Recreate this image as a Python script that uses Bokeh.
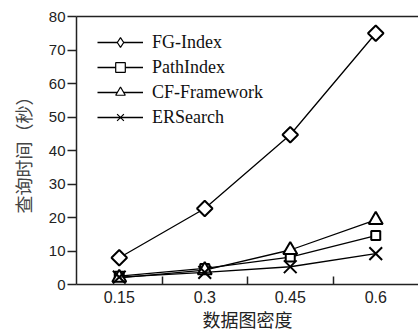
from bokeh.plotting import figure
from bokeh.models import FixedTicker, LinearAxis, Range1d, Legend, LegendItem
from bokeh.embed import file_html
from bokeh.resources import INLINE

# Graph density categories (x axis) and query time in seconds per method
densities = ["0.15", "0.3", "0.45", "0.6"]
fg_index = [8.0, 22.7, 44.7, 75.0]
path_index = [2.5, 4.8, 8.2, 14.6]
cf_framework = [2.0, 4.3, 10.3, 19.3]
er_search = [2.2, 3.6, 5.3, 9.2]

y_ticks = [0, 10, 20, 30, 40, 50, 60, 70, 80]

xs = list(range(len(densities)))

p = figure(width=418, height=334, output_backend="svg", toolbar_location=None,
           x_range=Range1d(-0.5, len(densities) - 0.5), y_range=Range1d(0, 80),
           min_border_left=76, min_border_right=0, min_border_top=16, min_border_bottom=48,
           background_fill_color="white", border_fill_color="white")
p.outline_line_color = None
p.grid.visible = False

# bottom axis: labels at category centres, small inward ticks between categories
xa = p.xaxis[0]
xa.ticker = FixedTicker(ticks=xs, minor_ticks=[i + 0.5 for i in xs[:-1]])
xa.major_label_overrides = {i: d for i, d in enumerate(densities)}
xa.major_tick_line_color = None
xa.major_tick_in = 0
xa.major_tick_out = 0
xa.minor_tick_in = 8
xa.minor_tick_out = 0
xa.minor_tick_line_color = "#222222"
xa.minor_tick_line_width = 1.5
xa.axis_line_width = 1.5
xa.axis_line_color = "#222222"
xa.major_label_text_font = "Liberation Sans"
xa.major_label_text_font_size = "16px"
xa.major_label_text_color = "#222222"
xa.major_label_standoff = 6
xa.axis_label = "数据图密度"
xa.axis_label_text_font = "Noto Sans CJK SC"
xa.axis_label_text_font_size = "18px"
xa.axis_label_text_font_style = "normal"
xa.axis_label_text_color = "#222222"
xa.axis_label_standoff = 0

ya = p.yaxis[0]
ya.ticker = FixedTicker(ticks=y_ticks)
ya.minor_tick_line_color = None
ya.major_tick_in = 0
ya.major_tick_out = 9
ya.major_tick_line_width = 1.5
ya.major_tick_line_color = "#222222"
ya.axis_line_width = 1.5
ya.axis_line_color = "#222222"
ya.major_label_text_font = "Liberation Sans"
ya.major_label_text_font_size = "15px"
ya.major_label_text_color = "#222222"
ya.major_label_standoff = 2
ya.axis_label = "查询时间（秒）"
ya.axis_label_text_font = "Noto Sans CJK SC"
ya.axis_label_text_font_size = "18px"
ya.axis_label_text_font_style = "normal"
ya.axis_label_text_color = "#444444"
ya.axis_label_standoff = 10

# plain top border line
top = LinearAxis(ticker=FixedTicker(ticks=[]), axis_line_width=1.5, axis_line_color="#222222",
                 major_tick_line_color=None, minor_tick_line_color=None,
                 major_label_text_font_size="0px")
p.add_layout(top, "above")

series = [
    ("FG-Index", fg_index, "square", 11, 45, "diamond", 12),
    ("PathIndex", path_index, "square", 9, 0, "square", 8),
    ("CF-Framework", cf_framework, "triangle", 14, 0, "triangle", 11),
    ("ERSearch", er_search, "x", 18, 0, "x", 10),
]

nan = float("nan")
items = []
for name, vals, marker, size, ang, key_marker, key_size in series:
    ln = p.line(xs, vals, line_color="black", line_width=1.3)
    p.scatter(xs, vals, marker=marker, size=size, angle=ang, angle_units="deg",
              fill_color="white", line_color="black", line_width=2)
    # thin outline marker used only for the legend key (no visible point)
    key = p.scatter(x=[nan], y=[nan], marker=key_marker, size=key_size,
                    fill_color="white", line_color="black", line_width=1.2)
    items.append(LegendItem(label=name, renderers=[ln, key]))

legend = Legend(items=items, location=(21, 155), margin=0, padding=0,
                glyph_width=46, glyph_height=24, label_height=24, spacing=1,
                label_standoff=9, label_text_font="Liberation Serif",
                label_text_font_size="18px", label_text_color="#111111",
                border_line_color=None, background_fill_alpha=0)
p.add_layout(legend, "center")

open("out.html", "w").write(file_html(p, INLINE))
